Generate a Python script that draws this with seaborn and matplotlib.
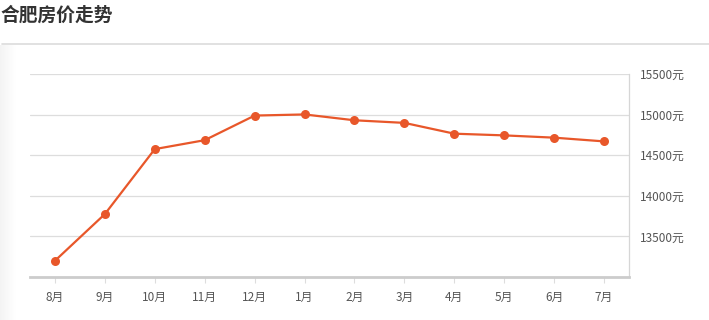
import matplotlib
matplotlib.use("Agg")
import matplotlib.pyplot as plt
import seaborn as sns
import pandas as pd
import numpy as np
from matplotlib.lines import Line2D

months = ["8月", "9月", "10月", "11月", "12月", "1月", "2月", "3月", "4月", "5月", "6月", "7月"]
prices = [13200, 13775, 14575, 14685, 14988, 15002, 14930, 14898, 14765, 14744, 14716, 14670]
yticks = [13500, 14000, 14500, 15000, 15500]
ytick_labels = [f"{v}元" for v in yticks]
title = "合肥房价走势"

sns.set_theme(style="white")
plt.rcParams['font.family'] = ['Noto Sans CJK SC', 'DejaVu Sans']

df = pd.DataFrame({"month": months, "price": prices})

W, H = 709, 320
fig = plt.figure(figsize=(W / 100, H / 100), dpi=100)
fig.patch.set_facecolor("white")

# subtle left page shadow (gradient)
bg = fig.add_axes([0, 0, 16 / W, (H - 45) / H], zorder=-5)
grad = np.linspace(0.955, 1.0, 64).reshape(1, -1)
bg.imshow(np.dstack([grad, grad, grad]), aspect="auto", extent=[0, 1, 0, 1])
bg.set_axis_off()

fig.lines.append(Line2D([2 / W, 1], [1 - 43.5 / H, 1 - 43.5 / H], transform=fig.transFigure,
                        color="#dcdcdc", lw=1.2))

fig.text(0, 1 - 15 / H, title, fontsize=13.5, fontweight="bold", color="#333333",
         va="center", ha="left")

left, right, bottom, top = 30 / W, 629 / W, (H - 277) / H, (H - 74) / H
ax = fig.add_axes([left, bottom, right - left, top - bottom])
ax.set_facecolor("white")

sns.lineplot(data=df, x="month", y="price", ax=ax, color="#e8572a", lw=1.6,
             marker="o", markersize=6.5, markeredgewidth=0, sort=False, zorder=3)

ax.set_xlim(-0.5, len(months) - 0.5)
ax.set_ylim(13000, 15500)
ax.set_yticks(yticks)
ax.set_yticklabels(ytick_labels)
ax.yaxis.tick_right()
ax.yaxis.set_label_position("right")
ax.set_xlabel("")
ax.set_ylabel("")

ax.grid(axis="y", color="#dddddd", lw=0.9)
ax.grid(axis="x", visible=False)
ax.set_axisbelow(True)

for s in ["left", "top"]:
    ax.spines[s].set_visible(False)
ax.spines["right"].set_color("#d6d6d6")
ax.spines["right"].set_linewidth(0.9)
ax.spines["bottom"].set_color("#cccccc")
ax.spines["bottom"].set_linewidth(2.0)

ax.tick_params(axis="y", length=0, pad=8, labelsize=8.5, labelcolor="#555555")
ax.tick_params(axis="x", length=4, width=0.8, color="#dddddd", pad=6,
               labelsize=8.5, labelcolor="#555555", bottom=True)

fig.savefig("out.png", dpi=100, facecolor="white")
